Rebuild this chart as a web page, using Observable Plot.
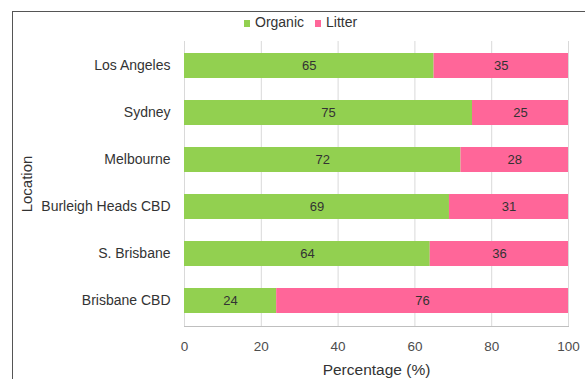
<!DOCTYPE html>
<html>
<head>
<meta charset="utf-8">
<script src="https://cdn.jsdelivr.net/npm/d3@7"></script>
<script src="https://cdn.jsdelivr.net/npm/@observablehq/plot@0.6"></script>
<style>
  html, body { margin: 0; padding: 0; background: #fff; overflow: hidden; }
  #wrap { position: relative; width: 585px; height: 379px; font-family: "Liberation Sans", Arial, sans-serif; }
  #frame { position: absolute; left: 12px; top: 11px; width: 600px; height: 400px;
           border-left: 1px solid #555; border-top: 1px solid #555; }
  #legend { position: absolute; top: 14px; left: 244px; white-space: nowrap; line-height: 16px;
            font-size: 14px; color: #333; }
  #legend span.sw { display: inline-block; width: 6px; height: 7px; margin-right: 5px; vertical-align: 0px; }
  #legend span.item { margin-right: 11px; }
  #chart { position: absolute; left: 0; top: 0; }
</style>
</head>
<body>
<div id="wrap">
  <div id="frame"></div>
  <div id="legend"></div>
  <div id="chart"></div>
</div>
<script>
// Share of organic vs litter items by location (percent)
const locations = ["Los Angeles", "Sydney", "Melbourne", "Burleigh Heads CBD", "S. Brisbane", "Brisbane CBD"];
const organic = [65, 75, 72, 69, 64, 24];
const litter = [35, 25, 28, 31, 36, 76];
const seriesNames = ["Organic", "Litter"];
const seriesColors = ["#92d050", "#ff6699"];
const xTicks = [0, 20, 40, 60, 80, 100];

const rows = [];
locations.forEach((loc, i) => {
  rows.push({location: loc, type: "Organic", value: organic[i]});
  rows.push({location: loc, type: "Litter", value: litter[i]});
});

const legend = document.getElementById("legend");
seriesNames.forEach((name, i) => {
  const item = document.createElement("span");
  item.className = "item";
  item.innerHTML = `<span class="sw" style="background:${seriesColors[i]}"></span>${name}`;
  legend.appendChild(item);
});

const chart = Plot.plot({
  width: 585,
  height: 379,
  marginLeft: 184,
  marginRight: 17,
  marginTop: 41,
  marginBottom: 53,
  style: {fontFamily: "Liberation Sans, Arial, sans-serif", fontSize: "12px", color: "#404040", background: "transparent"},
  x: {domain: [0, 100], ticks: xTicks},
  y: {domain: locations, paddingInner: 0.46, paddingOuter: 0.23},
  color: {domain: seriesNames, range: seriesColors},
  marks: [
    Plot.gridX(xTicks, {stroke: "#d9d9d9", strokeOpacity: 1}),
    Plot.barX(rows, Plot.stackX({y: "location", x: "value", fill: "type", z: "type", order: seriesNames})),
    Plot.text(rows, Plot.stackX({y: "location", x: "value", z: "type", text: "value", order: seriesNames, fill: "#333", fontSize: 13})),
    Plot.frame({anchor: "bottom", stroke: "#bfbfbf"}),
    // tick labels
    Plot.axisX(xTicks, {tickSize: 0, tickPadding: 15, fontSize: 13.5, color: "#4d4d4d", label: null}),
    // axis title
    Plot.axisX({ticks: [], tickSize: 0, fontSize: 15.5, color: "#333",
      label: "Percentage (%)", labelAnchor: "center", labelOffset: 48, labelArrow: "none"}),
    Plot.axisY({tickSize: 0, tickPadding: 14, fontSize: 14, color: "#333", label: null}),
    Plot.axisY({ticks: [], tickSize: 0, fontSize: 15, color: "#333",
      label: "Location", labelAnchor: "center", labelOffset: 163, labelArrow: "none"})
  ]
});
document.getElementById("chart").appendChild(chart);
</script>
</body>
</html>
